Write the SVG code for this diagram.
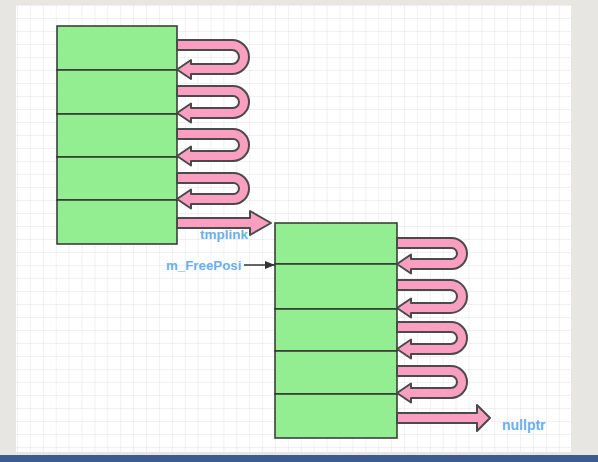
<svg xmlns="http://www.w3.org/2000/svg" width="598" height="462" viewBox="0 0 598 462">
<defs>
<pattern id="grid" patternUnits="userSpaceOnUse" x="17" y="5" width="12.9" height="13">
<path d="M0 0H12.9M0 0V13" fill="none" stroke="#e2e2e2" stroke-width="1"/>
</pattern>
<marker id="blk" viewBox="0 0 10 8" refX="10" refY="4" markerWidth="11" markerHeight="8" orient="auto" markerUnits="userSpaceOnUse">
<path d="M0 0L10 4L0 8z" fill="#333"/>
</marker>
</defs>
<style>
.cell{fill:#92ee90;stroke:#333;stroke-width:1.5}
.arw{fill:#fa9fc0;stroke:#4a4a4a;stroke-width:2;stroke-linejoin:round}
.lbl{font-family:"Liberation Sans",Arial,sans-serif;font-weight:bold;fill:#6aaff0}
</style>
<rect width="598" height="462" fill="#e8e6e2"/>
<rect x="16" y="5" width="555" height="447" fill="#ffffff"/>
<rect x="16" y="5" width="555" height="447" fill="url(#grid)"/>
<rect x="0" y="455" width="598" height="7" fill="#3d5b8e"/>

<g id="L0"><rect class="cell" x="57" y="26" width="120" height="44"/></g>
<g id="L1"><rect class="cell" x="57" y="70" width="120" height="44"/></g>
<g id="L2"><rect class="cell" x="57" y="114" width="120" height="43"/></g>
<g id="L3"><rect class="cell" x="57" y="157" width="120" height="43"/></g>
<g id="L4"><rect class="cell" x="57" y="200" width="120" height="44"/></g>

<g id="R0"><rect class="cell" x="275" y="223" width="122" height="41"/></g>
<g id="R1"><rect class="cell" x="275" y="264" width="122" height="45"/></g>
<g id="R2"><rect class="cell" x="275" y="309" width="122" height="42"/></g>
<g id="R3"><rect class="cell" x="275" y="351" width="122" height="43"/></g>
<g id="R4"><rect class="cell" x="275" y="394" width="122" height="44"/></g>

<g id="connectors">
<path class="arw" d="M177 40L232 40A17 17 0 0 1 232 74L191 74L191 79L177 69.5L191 60L191 64L232 64A7 7 0 0 0 232 50L177 50Z"/>
<path class="arw" d="M177 86L233 86A16 16 0 0 1 233 118L191 118L191 122.5L177 113L191 103.5L191 108L233 108A6 6 0 0 0 233 96L177 96Z"/>
<path class="arw" d="M177 129L233 129A16 16 0 0 1 233 161L191 161L191 165.5L177 156L191 146.5L191 151L233 151A6 6 0 0 0 233 139L177 139Z"/>
<path class="arw" d="M177 173L233.5 173A15.5 15.5 0 0 1 233.5 204L191 204L191 208.5L177 199L191 189.5L191 194L233.5 194A5.5 5.5 0 0 0 233.5 183L177 183Z"/>
<path class="arw" d="M397 238L451.5 238A15.5 15.5 0 0 1 451.5 269L411 269L411 273.5L397 264L411 254.5L411 259L451.5 259A5.5 5.5 0 0 0 451.5 248L397 248Z"/>
<path class="arw" d="M397 280L450.5 280A16.5 16.5 0 0 1 450.5 313L411 313L411 317.5L397 308L411 298.5L411 303L450.5 303A6.5 6.5 0 0 0 450.5 290L397 290Z"/>
<path class="arw" d="M397 322L451 322A16 16 0 0 1 451 354L411 354L411 358.5L397 349L411 339.5L411 344L451 344A6 6 0 0 0 451 332L397 332Z"/>
<path class="arw" d="M397 366L451 366A16 16 0 0 1 451 398L411 398L411 402.5L397 393L411 383.5L411 388L451 388A6 6 0 0 0 451 376L397 376Z"/>
<path class="arw" d="M177 218L250 218L250 211L271 223L250 235L250 228L177 228Z"/>
<path class="arw" d="M397 413L477 413L477 405L490 418L477 431L477 423L397 423Z"/>
<line x1="244" y1="265" x2="275" y2="265" stroke="#333" stroke-width="1.5" marker-end="url(#blk)"/>
</g>

<text class="lbl" x="200" y="239" font-size="13.5">tmplink</text>
<text class="lbl" x="166" y="270" font-size="13.3">m_FreePosi</text>
<text class="lbl" x="502" y="430" font-size="14">nullptr</text>
</svg>
